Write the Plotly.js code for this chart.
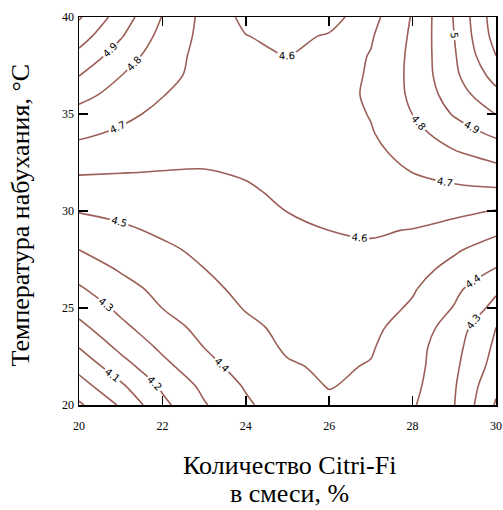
<!DOCTYPE html>
<html>
<head>
<meta charset="utf-8">
<script src="https://cdn.plot.ly/plotly-3.0.1.min.js"></script>
<style>html,body{margin:0;padding:0;background:#fff;}#chart{width:503px;height:510px;}</style>
</head>
<body>
<div id="chart"></div>
<script>
// Citri-Fi amount in the mix, %
const citriFi = [20, 21, 22, 23, 24, 25, 26, 27, 28, 29, 30];
// Swelling temperature, °C
const temperature = [20, 21, 22, 23, 24, 25, 26, 27, 28, 29, 30, 31, 32, 33, 34, 35, 36, 37, 38, 39, 40];
// Response values, one row per temperature
const zT20 = [3.885, 4.012, 4.175, 4.292, 4.384, 4.46, 4.488, 4.473, 4.41, 4.302, 4.09];
const zT21 = [3.96, 4.085, 4.217, 4.323, 4.41, 4.477, 4.503, 4.487, 4.426, 4.309, 4.12];
const zT22 = [4.032, 4.16, 4.274, 4.364, 4.443, 4.491, 4.513, 4.495, 4.436, 4.32, 4.16];
const zT23 = [4.104, 4.224, 4.319, 4.402, 4.458, 4.512, 4.525, 4.508, 4.439, 4.333, 4.181];
const zT24 = [4.174, 4.277, 4.361, 4.428, 4.482, 4.52, 4.537, 4.522, 4.457, 4.355, 4.2];
const zT25 = [4.234, 4.322, 4.401, 4.455, 4.505, 4.533, 4.549, 4.542, 4.487, 4.394, 4.27];
const zT26 = [4.289, 4.365, 4.428, 4.481, 4.519, 4.547, 4.562, 4.558, 4.51, 4.424, 4.318];
const zT27 = [4.345, 4.409, 4.454, 4.499, 4.534, 4.56, 4.575, 4.574, 4.535, 4.471, 4.395];
const zT28 = [4.40, 4.441, 4.483, 4.519, 4.549, 4.574, 4.589, 4.59, 4.57, 4.512, 4.455];
const zT29 = [4.452, 4.483, 4.515, 4.538, 4.563, 4.588, 4.600, 4.607, 4.597, 4.568, 4.519];
const zT30 = [4.505, 4.523, 4.542, 4.558, 4.577, 4.601, 4.612, 4.623, 4.631, 4.62, 4.596];
const zT31 = [4.555, 4.563, 4.570, 4.578, 4.592, 4.612, 4.62, 4.641, 4.666, 4.677, 4.683];
const zT32 = [4.608, 4.602, 4.598, 4.596, 4.606, 4.617, 4.627, 4.658, 4.701, 4.734, 4.763];
const zT33 = [4.663, 4.643, 4.624, 4.62, 4.62, 4.628, 4.64, 4.676, 4.734, 4.791, 4.841];
const zT34 = [4.718, 4.685, 4.651, 4.64, 4.635, 4.635, 4.65, 4.693, 4.767, 4.851, 4.92];
const zT35 = [4.769, 4.724, 4.677, 4.655, 4.64, 4.637, 4.655, 4.705, 4.801, 4.909, 5.003];
const zT36 = [4.83, 4.765, 4.703, 4.67, 4.645, 4.64, 4.655, 4.716, 4.818, 4.95, 5.073];
const zT37 = [4.903, 4.802, 4.724, 4.675, 4.63, 4.618, 4.643, 4.713, 4.823, 4.98, 5.137];
const zT38 = [4.972, 4.852, 4.745, 4.67, 4.618, 4.598, 4.65, 4.705, 4.822, 4.99, 5.2];
const zT39 = [5.042, 4.908, 4.769, 4.673, 4.603, 4.575, 4.61, 4.691, 4.816, 5.0, 5.238];
const zT40 = [5.111, 4.954, 4.796, 4.674, 4.575, 4.545, 4.559, 4.667, 4.808, 5.007, 5.255];

const xTicks = [20, 22, 24, 26, 28, 30];
const yTicks = [20, 25, 30, 35, 40];

const xTitleLines = ['Количество Citri-Fi', 'в смеси, %'];
const yTitle = 'Температура набухания, °C';

const lineColor = '#9c5f58';
const serif = 'Liberation Serif, Times New Roman, serif';

const trace = {
  type: 'contour',
  x: citriFi,
  y: temperature,
  z: [zT20, zT21, zT22, zT23, zT24, zT25, zT26, zT27, zT28, zT29, zT30,
      zT31, zT32, zT33, zT34, zT35, zT36, zT37, zT38, zT39, zT40],
  colorscale: [[0, lineColor], [1, lineColor]],
  showscale: false,
  contours: {
    start: 3.9, end: 5.2, size: 0.1,
    coloring: 'lines',
    showlabels: true,
    labelfont: {family: 'DejaVu Sans, sans-serif', size: 10, color: '#000'}
  },
  line: {width: 1.6, smoothing: 1},
  hoverinfo: 'skip'
};

const axisCommon = {
  showgrid: false, zeroline: false,
  showline: true, linecolor: '#000', linewidth: 1.5,
  ticks: 'inside', ticklen: 9, tickwidth: 1.5, tickcolor: '#000',
  mirror: 'ticks',
  tickfont: {family: serif, size: 12, color: '#000'}
};

const titleFont = {family: serif, size: 26, color: '#000'};

const layout = {
  width: 503, height: 510,
  margin: {l: 79, r: 7, t: 17, b: 105},
  paper_bgcolor: '#fff', plot_bgcolor: '#fff',
  showlegend: false,
  xaxis: Object.assign({}, axisCommon, {
    range: [20, 30], tickvals: xTicks, ticktext: xTicks.map(String),
    ticklabelstandoff: 9
  }),
  yaxis: Object.assign({}, axisCommon, {
    range: [20, 40], tickvals: yTicks, ticktext: yTicks.map(String),
    ticklabelstandoff: 1
  }),
  xaxis2: {
    overlaying: 'x', matches: 'x', anchor: 'y', side: 'bottom',
    range: [20, 30], tickvals: xTicks, showticklabels: false,
    ticks: 'outside', ticklen: 8, tickwidth: 1.5, tickcolor: '#000',
    showgrid: false, zeroline: false, showline: false
  },
  yaxis2: {
    overlaying: 'y', matches: 'y', anchor: 'x', side: 'left',
    range: [20, 40], tickvals: yTicks, showticklabels: false,
    ticks: 'outside', ticklen: 10, tickwidth: 1.5, tickcolor: '#000',
    showgrid: false, zeroline: false, showline: false
  },
  annotations: [
    {text: xTitleLines[0], xref: 'paper', yref: 'paper', x: 0.505, y: -0.157,
     xanchor: 'center', yanchor: 'middle', showarrow: false, font: titleFont},
    {text: xTitleLines[1], xref: 'paper', yref: 'paper', x: 0.505, y: -0.227,
     xanchor: 'center', yanchor: 'middle', showarrow: false, font: titleFont},
    {text: yTitle, xref: 'paper', yref: 'paper', x: -0.14, y: 0.49, textangle: -90,
     xanchor: 'center', yanchor: 'middle', showarrow: false, font: titleFont}
  ]
};

Plotly.newPlot('chart', [trace], layout, {displayModeBar: false, staticPlot: true});
</script>
</body>
</html>
